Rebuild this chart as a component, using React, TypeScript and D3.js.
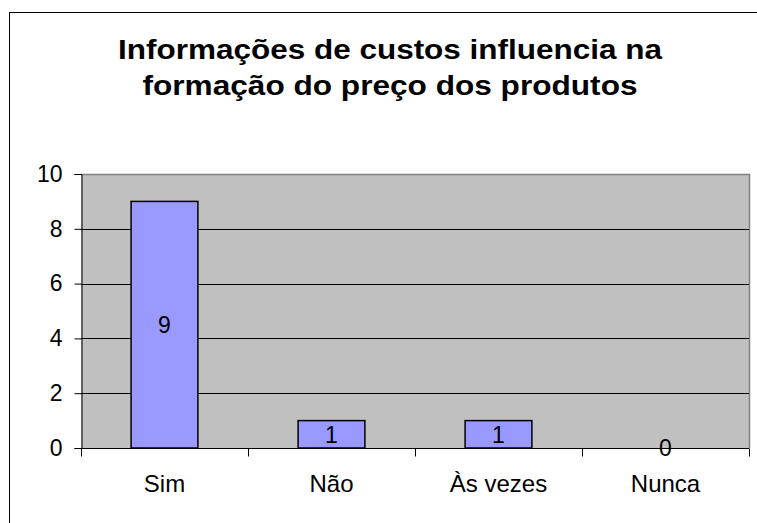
import { useEffect, useRef } from 'react'
import * as d3 from 'd3'

// ── data ─────────────────────────────────────────────────────────────────────
const categories = ['Sim', 'Não', 'Às vezes', 'Nunca']
const values     = [9, 1, 1, 0]
const yTicks     = [0, 2, 4, 6, 8, 10]
const titleLines = ['Informações de custos influencia na', 'formação do preço dos produtos']

// ── layout / colours ─────────────────────────────────────────────────────────
const W = 757
const H = 523
const P = { left: 81, right: 749, top: 174, bottom: 448 }
const FONT    = '"Liberation Sans", Arial, sans-serif'
const C_PLOT  = '#c0c0c0'
const C_BAR   = '#9999ff'
const C_FRAME = '#808080'

export default function App() {
  const ref = useRef<SVGSVGElement>(null)

  useEffect(() => {
    if (!ref.current) return
    const svg = d3.select(ref.current)
    svg.selectAll('*').remove()

    // outer chart border (runs off right/bottom edge like the reference)
    svg.append('rect')
      .attr('x', 9.5).attr('y', 12.5).attr('width', W + 20).attr('height', H + 20)
      .attr('fill', '#fff').attr('stroke', '#000').attr('stroke-width', 1)

    // title
    const tLen = [544, 495]
    svg.append('g').selectAll('text')
      .data(titleLines)
      .join('text')
        .attr('x', 390).attr('y', (_, i) => 59 + i * 36)
        .attr('text-anchor', 'middle')
        .attr('font-family', FONT).attr('font-weight', 'bold').attr('font-size', 28)
        .attr('textLength', (_, i) => tLen[i]).attr('lengthAdjust', 'spacingAndGlyphs')
        .attr('fill', '#000')
        .text(d => d)

    const x = d3.scaleBand<string>()
      .domain(categories)
      .range([P.left, P.right])
      .paddingInner(0.6).paddingOuter(0.3)
    const y = d3.scaleLinear().domain([0, 10]).range([P.bottom, P.top])
    const step = x.step()

    // plot area
    svg.append('rect')
      .attr('x', P.left).attr('y', P.top)
      .attr('width', P.right - P.left).attr('height', P.bottom - P.top)
      .attr('fill', C_PLOT)
    svg.append('path')
      .attr('d', `M${P.left},${P.top + 0.5}H${P.right + 0.5}V${P.bottom}`)
      .attr('fill', 'none').attr('stroke', C_FRAME).attr('stroke-width', 1.5)

    // grid lines
    svg.append('g').selectAll('line')
      .data(yTicks.filter(t => t > 0 && t < 10))
      .join('line')
        .attr('x1', P.left).attr('x2', P.right)
        .attr('y1', t => Math.round(y(t)) + 0.5).attr('y2', t => Math.round(y(t)) + 0.5)
        .attr('stroke', '#000').attr('stroke-width', 1)

    // bars
    svg.append('g').selectAll('rect')
      .data(values)
      .join('rect')
        .attr('x', (_, i) => x(categories[i])!)
        .attr('y', v => y(v))
        .attr('width', x.bandwidth())
        .attr('height', v => y(0) - y(v))
        .attr('fill', C_BAR)
        .attr('stroke', v => v > 0 ? '#000' : 'none').attr('stroke-width', 1.5)

    // y axis
    svg.append('g')
      .attr('transform', `translate(${P.left + 0.5},0)`)
      .call(d3.axisLeft(y).tickValues(yTicks).tickSize(7).tickPadding(12))
      .call(g => g.select('.domain').attr('stroke', '#000'))
      .call(g => g.selectAll('line').attr('stroke', '#000'))
      .call(g => g.selectAll<SVGTextElement, unknown>('text')
        .attr('font-family', FONT).attr('font-size', 23).attr('fill', '#000'))

    // x axis (ticks at category boundaries)
    const xa = svg.append('g').attr('transform', `translate(0,${P.bottom + 0.5})`)
    xa.append('line')
      .attr('x1', P.left).attr('x2', P.right).attr('stroke', '#000')
    xa.selectAll('line.tk')
      .data(d3.range(categories.length + 1))
      .join('line')
        .attr('class', 'tk')
        .attr('x1', i => Math.round(P.left + i * step) + 0.5)
        .attr('x2', i => Math.round(P.left + i * step) + 0.5)
        .attr('y1', 0).attr('y2', 8)
        .attr('stroke', '#000')
    xa.selectAll('text')
      .data(categories)
      .join('text')
        .attr('x', d => x(d)! + x.bandwidth() / 2)
        .attr('y', 43)
        .attr('text-anchor', 'middle')
        .attr('font-family', FONT).attr('font-size', 24).attr('fill', '#000')
        .text(d => d)

    // data labels
    svg.append('g').selectAll('text')
      .data(values)
      .join('text')
        .attr('x', (_, i) => x(categories[i])! + x.bandwidth() / 2)
        .attr('y', v => (y(v) + y(0)) / 2)
        .attr('dy', '0.36em')
        .attr('text-anchor', 'middle')
        .attr('font-family', FONT).attr('font-size', 23).attr('fill', '#000')
        .text(v => v)
  }, [])

  return (
    <svg
      ref={ref}
      width={W}
      height={H}
      viewBox={`0 0 ${W} ${H}`}
      style={{ position: 'absolute', left: 0, top: 0, display: 'block', background: '#fff' }}
    />
  )
}
